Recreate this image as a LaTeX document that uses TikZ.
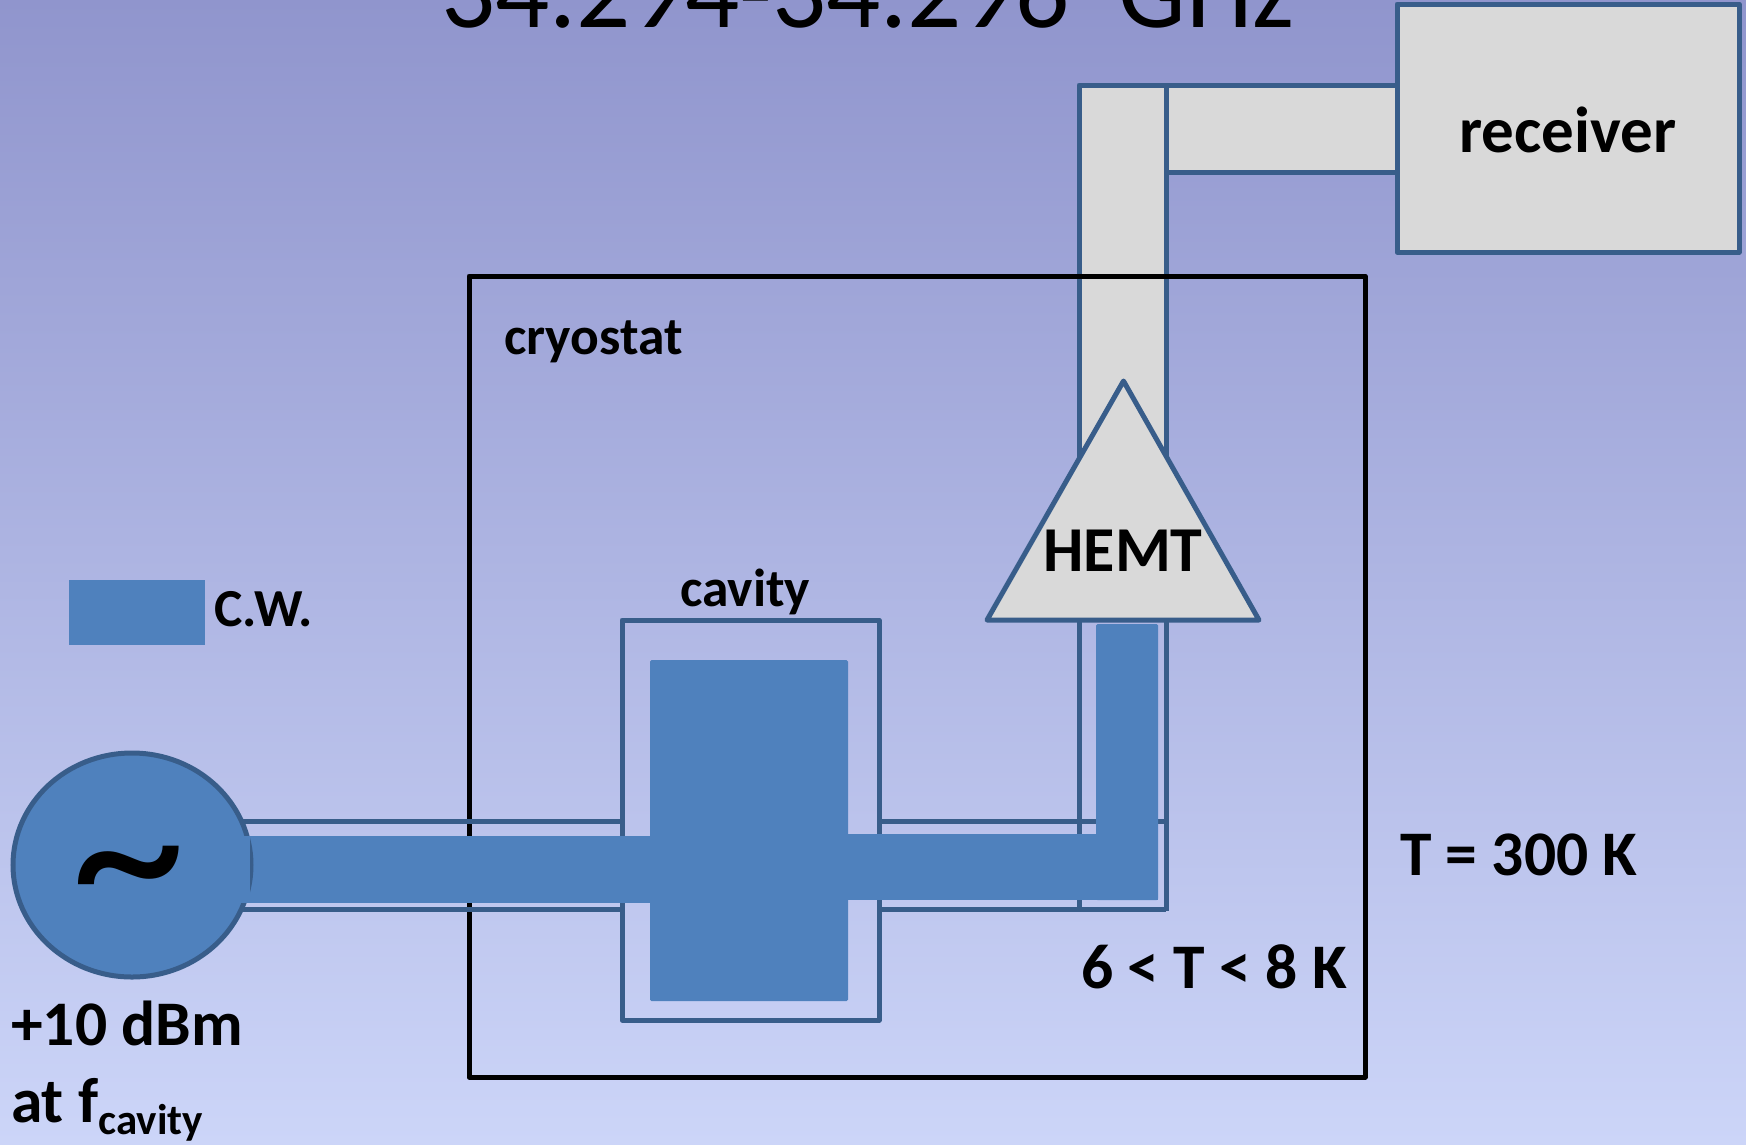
\documentclass[tikz,border=0pt]{standalone}
\usepackage{fontspec}
\setmainfont{Carlito}
\usetikzlibrary{shapes.geometric}
\definecolor{bgtop}{HTML}{9095CD}
\definecolor{bgbot}{HTML}{CCD5F8}
\definecolor{edge}{HTML}{385D8A}
\definecolor{wave}{HTML}{4F81BD}
\definecolor{pale}{HTML}{D9D9D9}
\tikzset{
  x=1pt,y=-1pt,
  guide/.style={draw=edge,line width=5pt,fill=pale,line join=round},
  rail/.style={draw=edge,line width=5pt},
  cw/.style={fill=wave,draw=none},
  lab/.style={font=\bfseries\fontsize{63.5}{70}\selectfont,text=black,inner sep=0pt,anchor=base west},
  labs/.style={font=\bfseries\fontsize{53.5}{60}\selectfont,text=black,inner sep=0pt,anchor=base west}
}
\begin{document}
\begin{tikzpicture}
\useasboundingbox (0,0) rectangle (1746,1144);
\clip (0,0) rectangle (1746,1144);
\shade[top color=bgtop,bottom color=bgbot] (0,0) rectangle (1746,1144);
% title (cut by the top edge)
\node[anchor=base,inner sep=0pt,font=\fontsize{107}{110}\selectfont] (title) at (868,27.5) {34.294-34.296\ \ GHz};
% upper waveguide and receiver
\draw[guide] (1079,85) rectangle (1166,470);
\draw[guide] (1166,85) rectangle (1397,172);
\node[guide,rectangle,minimum width=342pt,minimum height=248pt,anchor=north west,inner sep=0pt,outer sep=0pt] (rx) at (1397,4) {};
\node[labs,anchor=center,font=\bfseries\fontsize{65}{70}\selectfont] (rxlabel) at (1568,130) {receiver};
% cryostat
\draw[black,line width=5pt,line join=round] (469,276) rectangle (1365,1077);
\node[labs] (cryo) at (504,354) {cryostat};
% lower waveguide rails
\draw[rail] (240,821) -- (622,821);
\draw[rail] (240,909) -- (622,909);
\draw[rail] (880,821) -- (1166,821);
\draw[rail] (880,909) -- (1166,909);
\draw[rail,line join=round] (1079,620) -- (1079,909);
\draw[rail,line join=round] (1166,620) -- (1166,911);
% amplifier
\draw[guide] (1123.5,381) -- (1259,620) -- (987,620) -- cycle;
\node[lab,anchor=center,font=\bfseries\fontsize{64}{70}\selectfont] (hemt) at (1123,551) {HEMT};
% cavity
\draw[rail,line join=round] (622,620) rectangle (879,1020);
\node[labs] (cavlabel) at (680,606) {cavity};
% signal
\fill[cw] (240,836) rectangle (660,903);
\fill[cw] (840,834) rectangle (1158,900);
\fill[cw,rounded corners=1.5pt] (650,660) rectangle (848,1001);
\fill[cw,rounded corners=1.5pt] (1096,624) rectangle (1158,900);
% source
\node[ellipse,draw=edge,line width=5pt,fill=wave,minimum width=238pt,minimum height=224pt,inner sep=0pt] (src) at (132,865) {};
\fill[cw] (131,836) rectangle (250,903);
\node[inner sep=0pt,font=\fontsize{230}{230}\selectfont] (tilde) at (129,888) {\char"007E};
% legend
\fill[cw] (69,580) rectangle (205,645) coordinate (legendbox);
\node[labs] (cwlabel) at (214,626) {C.W.};
% other text
\node[lab] (troom) at (1400,875) {T = 300 K};
\node[lab] (tcold) at (1081,988) {6 < T < 8 K};
\node[lab] (power) at (11,1045) {+10 dBm};
\node[lab] (atf) at (11,1122) {at f\raisebox{-12pt}{\fontsize{43}{45}\selectfont cavity}};
\end{tikzpicture}
\end{document}
